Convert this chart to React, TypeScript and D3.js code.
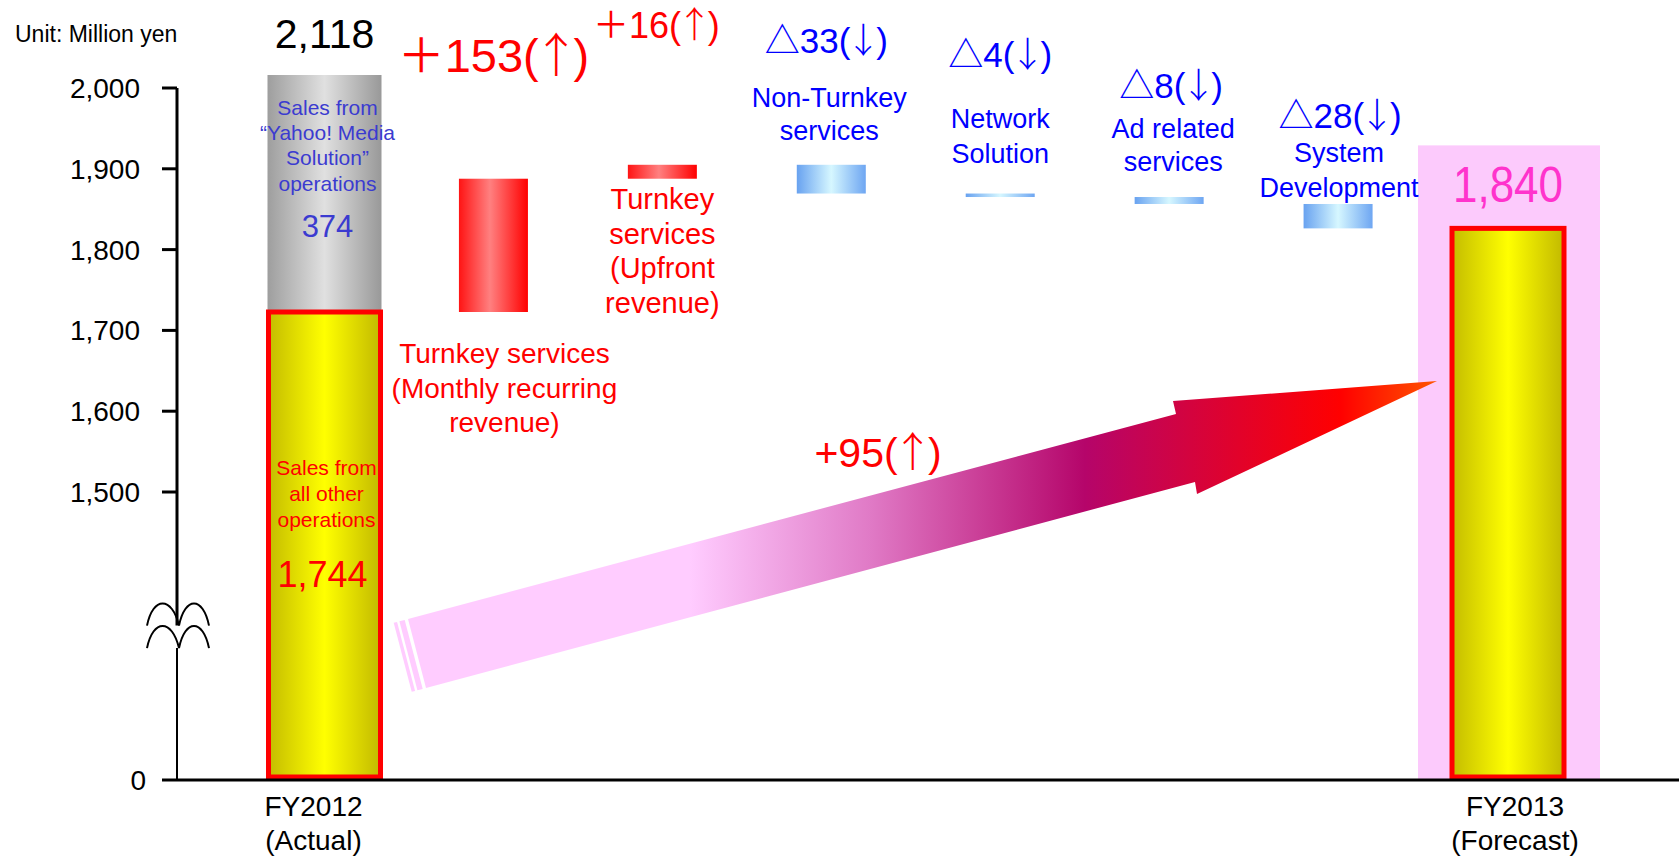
import React from "react";
import * as d3 from "d3";

// ---------- data ----------
const categories = ["FY2012", "TKMonthly", "TKUpfront", "NonTurnkey", "Network", "Ad", "SysDev", "FY2013"];
const fy2012Other = 1744;
const fy2012Yahoo = 374;
const fy2012Total = 2118;
const fy2013Total = 1840;
const stepValues = [153, 16, -33, -4, -8, -28];
const stepNames = [
  ["Turnkey services", "(Monthly recurring", "revenue)"],
  ["Turnkey", "services", "(Upfront", "revenue)"],
  ["Non-Turnkey", "services"],
  ["Network", "Solution"],
  ["Ad related", "services"],
  ["System", "Development"],
];
const axisTicks = [1500, 1600, 1700, 1800, 1900, 2000];
const yahooLines = ["Sales from", "\u201CYahoo! Media", "Solution\u201D", "operations"];
const otherLines = ["Sales from", "all other", "operations"];
const xLabelLines = [["FY2012", "(Actual)"], ["FY2013", "(Forecast)"]];
const trendText = "+95";
const unitText = "Unit: Million yen";

// ---------- layout ----------
const W = 1679;
const H = 858;
const FONT = "'Liberation Sans', Arial, Helvetica, sans-serif";
const CJK = "'Noto Sans CJK JP', 'Noto Sans CJK SC', sans-serif";
const stepLayout = [
  { dy: 72, dx: 0, dSize: 47, bigPlus: true, nx: 11, ny: 363, nSize: 28, lh: 34.5, color: "#ff0000" },
  { dy: 38, dx: -6, dSize: 36, bigPlus: true, nx: 0, ny: 209, nSize: 29, lh: 34.7, color: "#ff0000" },
  { dy: 53, dx: -5, dSize: 35, bigPlus: false, nx: -2, ny: 107, nSize: 27, lh: 33, color: "#0000ff" },
  { dy: 67, dx: 0, dSize: 35, bigPlus: false, nx: 0, ny: 128, nSize: 27, lh: 35, color: "#0000ff" },
  { dy: 98, dx: 2, dSize: 35, bigPlus: false, nx: 4, ny: 138, nSize: 27, lh: 33, color: "#0000ff" },
  { dy: 128, dx: 2, dSize: 35, bigPlus: false, nx: 1, ny: 162, nSize: 27, lh: 35, color: "#0000ff" },
];

function Arrowed({ ch }: { ch: string }) {
  return (
    <>
      <tspan>(</tspan>
      <tspan fontFamily={CJK} fontWeight={300} dx="-0.13em">{ch}</tspan>
      <tspan dx="-0.13em">)</tspan>
    </>
  );
}

export default function App() {
  const x = d3.scalePoint<string>().domain(categories).range([324.5, 1507]);
  const axisY = d3.scaleLinear().domain([0, 1500, 2000]).range([780, 492, 88]);
  const wfY = d3.scaleLinear().domain([0, fy2012Other, 2000]).range([780, 312, 89]);
  const stackY = d3.scaleLinear().domain([0, fy2012Other, fy2012Total]).range([780, 312, 75]);

  const bigW = 112;
  const stepW = 69;
  const baseY = axisY(0);

  // waterfall
  let cum = fy2012Other;
  const steps = stepValues.map((v, i) => {
    const start = cum;
    cum += v;
    return { cat: categories[i + 1], v, start, end: cum, lay: stepLayout[i], names: stepNames[i] };
  });

  const x12 = x("FY2012")!;
  const x13 = x("FY2013")!;

  // arrow geometry (annotation)
  const tailTop: [number, number] = [x12 + 83.5, 619];
  const tailBot: [number, number] = [x12 + 101.5, 688];
  const tip: [number, number] = [x13 - 70, 381];
  const dirLen = Math.hypot(768, -205);
  const u: [number, number] = [768 / dirLen, -205 / dirLen];
  const notchTop: [number, number] = [tailTop[0] + 768, tailTop[1] - 205];
  const notchBot: [number, number] = [tailBot[0] + 769, tailBot[1] - 206];
  const arrowPts: [number, number][] = [
    tailTop,
    notchTop,
    [notchTop[0] - 3, notchTop[1] - 13],
    tip,
    [notchBot[0] + 2, notchBot[1] + 12],
    notchBot,
    tailBot,
  ];
  const stripe = (t1: number, t2: number) =>
    [
      [tailTop[0] + t1 * u[0], tailTop[1] + t1 * u[1]],
      [tailTop[0] + t2 * u[0], tailTop[1] + t2 * u[1]],
      [tailBot[0] + t2 * u[0], tailBot[1] + t2 * u[1]],
      [tailBot[0] + t1 * u[0], tailBot[1] + t1 * u[1]],
    ]
      .map((p) => p.join(","))
      .join(" ");

  const fmt = d3.format(",");

  const deltaText = (v: number, lay: any) => {
    if (v > 0) {
      return (
        <>
          <tspan fontFamily={lay.bigPlus ? CJK : FONT}>{lay.bigPlus ? "\uFF0B" : "+"}</tspan>
          <tspan>{String(v)}</tspan>
          <Arrowed ch="↑" />
        </>
      );
    }
    return (
      <>
        <tspan fontFamily={CJK}>△</tspan>
        <tspan>{String(Math.abs(v))}</tspan>
        <Arrowed ch="↓" />
      </>
    );
  };

  const wave = (dy: number) => {
    const b = 625.6 + dy;
    const c = b - 29.5;
    return `M147,${b} C153,${c} 172,${c} 179,${b} C185,${c} 203,${c} 209,${b}`;
  };

  return (
    <svg
      width={W}
      height={H}
      viewBox={`0 0 ${W} ${H}`}
      style={{ position: "fixed", left: 0, top: 0, background: "#fff" }}
      fontFamily={FONT}
    >
      <defs>
        <linearGradient id="gGray" x1="0" x2="1" y1="0" y2="0">
          <stop offset="0" stopColor="#9e9e9e" />
          <stop offset="0.5" stopColor="#e0e0e0" />
          <stop offset="1" stopColor="#999999" />
        </linearGradient>
        <linearGradient id="gYellow" x1="0" x2="1" y1="0" y2="0">
          <stop offset="0" stopColor="#c4bc00" />
          <stop offset="0.5" stopColor="#ffff00" />
          <stop offset="1" stopColor="#c2b900" />
        </linearGradient>
        <linearGradient id="gRed" x1="0" x2="1" y1="0" y2="0">
          <stop offset="0" stopColor="#ff1414" />
          <stop offset="0.45" stopColor="#ff8080" />
          <stop offset="1" stopColor="#ff0000" />
        </linearGradient>
        <linearGradient id="gBlue" x1="0" x2="1" y1="0" y2="0">
          <stop offset="0" stopColor="#68a2f0" />
          <stop offset="0.5" stopColor="#d6f7ff" />
          <stop offset="1" stopColor="#6ea6f2" />
        </linearGradient>
        <linearGradient id="gArrow" gradientUnits="userSpaceOnUse" x1={tailTop[0]} x2={tip[0]} y1="0" y2="0">
          <stop offset="0" stopColor="#ffccff" />
          <stop offset={String((690 - tailTop[0]) / (tip[0] - tailTop[0]))} stopColor="#ffccff" />
          <stop offset={String((870 - tailTop[0]) / (tip[0] - tailTop[0]))} stopColor="#e07ac6" />
          <stop offset={String((1085 - tailTop[0]) / (tip[0] - tailTop[0]))} stopColor="#b5056a" />
          <stop offset={String((1340 - tailTop[0]) / (tip[0] - tailTop[0]))} stopColor="#ff0000" />
          <stop offset="1" stopColor="#ff5500" />
        </linearGradient>
      </defs>

      {/* unit */}
      <text x={15} y={42} fontSize={23} fill="#000">{unitText}</text>

      {/* FY2013 highlight */}
      <rect x={x13 - 89} y={wfY(fy2013Total) - 83} width={182} height={baseY - (wfY(fy2013Total) - 83)} fill="#fccafc" />

      {/* y axis */}
      <line x1={177} x2={177} y1={axisY(2000)} y2={625.6} stroke="#000" strokeWidth={3} />
      <line x1={177} x2={177} y1={648} y2={baseY} stroke="#000" strokeWidth={2} />
      <path d={wave(0)} fill="none" stroke="#000" strokeWidth={2} />
      <path d={wave(22.5)} fill="none" stroke="#000" strokeWidth={2} />
      {axisTicks.map((t) => (
        <g key={t}>
          <line x1={162} x2={177} y1={axisY(t)} y2={axisY(t)} stroke="#000" strokeWidth={3} />
          <text x={140} y={axisY(t) + 10} fontSize={28} textAnchor="end" fill="#000">{fmt(t)}</text>
        </g>
      ))}
      <text x={146} y={baseY + 10} fontSize={28} textAnchor="end" fill="#000">0</text>

      {/* FY2012 stacked bar */}
      <rect x={x12 - 57} y={stackY(fy2012Total)} width={114} height={stackY(fy2012Other) - stackY(fy2012Total)} fill="url(#gGray)" />
      <rect x={x12 - bigW / 2} y={stackY(fy2012Other)} width={bigW} height={stackY(0) - 3 - stackY(fy2012Other)} fill="url(#gYellow)" stroke="#ff0000" strokeWidth={5} />
      <text x={x12} y={48} fontSize={41} textAnchor="middle" fill="#000">{fmt(fy2012Total)}</text>
      {yahooLines.map((l, i) => (
        <text key={i} x={x12 + 3} y={115 + i * 25.2} fontSize={21} textAnchor="middle" fill="#3b3bd0">{l}</text>
      ))}
      <text x={x12 + 3} y={237} fontSize={31} textAnchor="middle" fill="#3b3bd0">{String(fy2012Yahoo)}</text>
      {otherLines.map((l, i) => (
        <text key={i} x={x12 + 2} y={475 + i * 26} fontSize={21} textAnchor="middle" fill="#ff0000">{l}</text>
      ))}
      <text x={x12 - 2} y={587} fontSize={36} textAnchor="middle" fill="#ff0000">{fmt(fy2012Other)}</text>

      {/* waterfall steps */}
      {steps.map((s) => {
        const cx = x(s.cat)!;
        const top = wfY(Math.max(s.start, s.end));
        const bot = wfY(Math.min(s.start, s.end));
        return (
          <g key={s.cat}>
            <rect x={cx - stepW / 2} y={top} width={stepW} height={bot - top} fill={s.v > 0 ? "url(#gRed)" : "url(#gBlue)"} />
            <text x={cx + s.lay.dx} y={s.lay.dy} fontSize={s.lay.dSize} textAnchor="middle" fill={s.lay.color}>
              {deltaText(s.v, s.lay)}
            </text>
            {s.names.map((n, j) => (
              <text key={j} x={cx + s.lay.nx} y={s.lay.ny + j * s.lay.lh} fontSize={s.lay.nSize} textAnchor="middle" fill={s.lay.color}>{n}</text>
            ))}
          </g>
        );
      })}

      {/* trend arrow */}
      <polygon points={stripe(-11.3, -14.8)} fill="#ffccff" />
      <polygon points={stripe(-3.4, -8.9)} fill="#ffccff" />
      <polygon points={arrowPts.map((p) => p.join(",")).join(" ")} fill="url(#gArrow)" />
      <text x={878} y={467} fontSize={41} textAnchor="middle" fill="#ff0000">
        <tspan>{trendText}</tspan>
        <Arrowed ch="↑" />
      </text>

      {/* FY2013 bar */}
      <rect x={x13 - bigW / 2 + 1} y={wfY(fy2013Total)} width={bigW} height={wfY(0) - 3 - wfY(fy2013Total)} fill="url(#gYellow)" stroke="#ff0000" strokeWidth={5} />
      <text x={x13 + 1} y={202} fontSize={44} textAnchor="middle" fill="#ff33cc" transform={`translate(0, ${202 * -0.15}) scale(1, 1.15)`}>{fmt(fy2013Total)}</text>

      {/* x axis */}
      <line x1={162} x2={W} y1={baseY} y2={baseY} stroke="#000" strokeWidth={3} />
      {[x12 - 11, x13 + 8].map((cx, i) =>
        xLabelLines[i].map((l, j) => (
          <text key={`${i}-${j}`} x={cx} y={816 + j * 34} fontSize={28} textAnchor="middle" fill="#000">{l}</text>
        ))
      )}
    </svg>
  );
}
